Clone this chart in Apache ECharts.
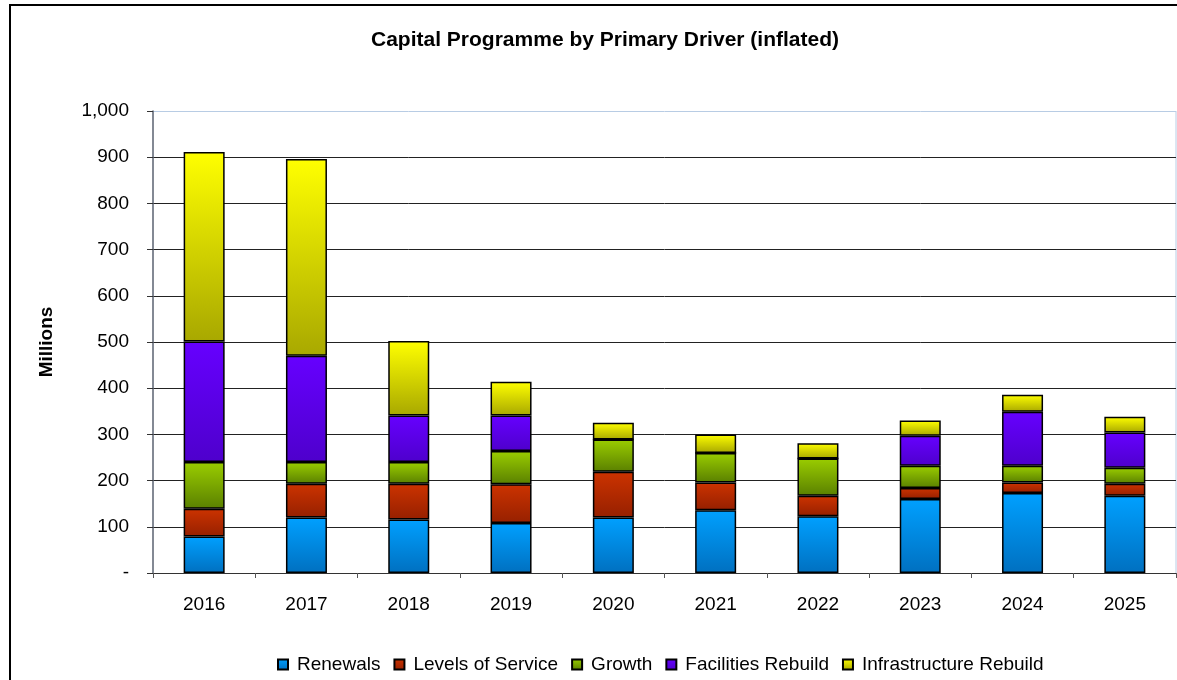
<!DOCTYPE html>
<html>
<head>
<meta charset="utf-8">
<script src="https://cdn.jsdelivr.net/npm/echarts@6/dist/echarts.min.js"></script>
<style>
  html, body { margin: 0; padding: 0; background: #fff; }
  #chart { width: 1177px; height: 680px; }
</style>
</head>
<body>
<div id="chart"></div>
<script>
var years = ['2016', '2017', '2018', '2019', '2020', '2021', '2022', '2023', '2024', '2025']
var renewals = [79, 120, 116, 108, 120, 136, 123, 160, 173, 167]
var levelsOfService = [60, 73, 77, 84, 99, 60, 44, 24, 23, 26]
var growth = [101, 47, 47, 72, 70, 64, 81, 48, 36, 35]
var facilitiesRebuild = [261, 230, 101, 77, 0, 0, 0, 65, 117, 76]
var infrastructureRebuild = [410, 426, 161, 73, 36, 40, 33, 33, 37, 34]

var font = 'Arial, "Liberation Sans", sans-serif'

function grad(top, bottom) {
  return new echarts.graphic.LinearGradient(0, 0, 0, 1, [
    { offset: 0, color: top },
    { offset: 1, color: bottom }
  ])
}

function bar(name, data, top, bottom) {
  return {
    name: name,
    type: 'bar',
    stack: 'total',
    barWidth: 41,
    data: data,
    itemStyle: {
      color: grad(top, bottom),
      borderColor: '#000',
      borderWidth: 1.5
    }
  }
}

var chart = echarts.init(document.getElementById('chart'))
chart.setOption({
  animation: false,
  textStyle: { fontFamily: font },
  title: {
    text: 'Capital Programme by Primary Driver (inflated)',
    left: 366,
    top: 25,
    textStyle: { fontFamily: font, fontSize: 21, fontWeight: 'bold', color: '#000' }
  },
  legend: {
    left: 272,
    top: 650,
    icon: 'rect',
    itemWidth: 10,
    itemHeight: 10,
    itemGap: 13,
    textStyle: { fontFamily: font, fontSize: 19, color: '#000', padding: [0, 0, 0, 4] },
    data: ['Renewals', 'Levels of Service', 'Growth', 'Facilities Rebuild', 'Infrastructure Rebuild']
  },
  grid: { left: 153, right: 1, top: 111, bottom: 107 },
  xAxis: {
    type: 'category',
    data: years,
    axisLine: { lineStyle: { color: '#333', width: 1 } },
    axisTick: { show: true, length: 5, lineStyle: { color: '#555' } },
    axisLabel: { fontFamily: font, fontSize: 19, color: '#000', margin: 22 }
  },
  yAxis: {
    type: 'value',
    min: 0,
    max: 1000,
    interval: 100,
    name: 'Millions',
    nameLocation: 'middle',
    nameGap: 97,
    nameRotate: 90,
    nameTextStyle: { fontFamily: font, fontSize: 19, fontWeight: 'bold', color: '#000' },
    axisLine: { show: true, lineStyle: { color: '#5a6270', width: 1.5 } },
    axisTick: { show: true, length: 6, lineStyle: { color: '#333' } },
    axisLabel: {
      fontFamily: font,
      fontSize: 19,
      color: '#000',
      margin: 24,
      formatter: function(v) {
        return v === 0 ? '-' : v.toLocaleString('en-US')
      }
    },
    splitLine: {
      lineStyle: {
        color: ['#222', '#222', '#222', '#222', '#222', '#222', '#222', '#222', '#222', '#222', '#b8cce4'],
        width: 1
      }
    }
  },
  graphic: [
    {
      type: 'rect',
      shape: { x: 10, y: 5, width: 1200, height: 700 },
      style: { fill: 'none', stroke: '#000', lineWidth: 2 },
      z: 100
    },
    {
      type: 'line',
      shape: { x1: 1176, y1: 111, x2: 1176, y2: 573 },
      style: { stroke: '#b8cce4', lineWidth: 1 }
    }
  ],
  series: [
    bar('Renewals', renewals, '#00a0ff', '#0070c0'),
    bar('Levels of Service', levelsOfService, '#cc3300', '#962000'),
    bar('Growth', growth, '#9acd00', '#5a8000'),
    bar('Facilities Rebuild', facilitiesRebuild, '#6600ff', '#4e00cc'),
    bar('Infrastructure Rebuild', infrastructureRebuild, '#ffff00', '#a8a800')
  ]
})
</script>
</body>
</html>
